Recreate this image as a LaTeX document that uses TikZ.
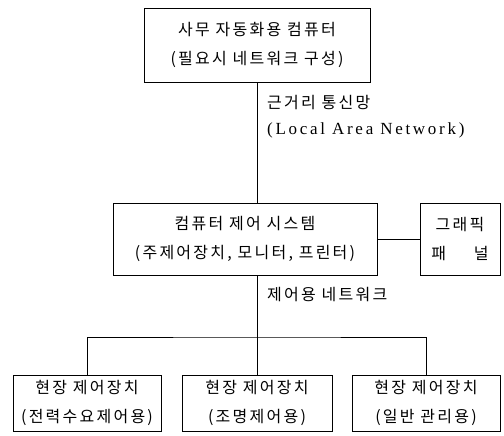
\documentclass[tikz,border=0pt]{standalone}
\usepackage{fontspec}
\newfontfamily\krfont[LetterSpace=14]{Noto Sans CJK KR}
\newfontfamily\latfont[LetterSpace=16]{Liberation Serif}
\begin{document}
\begin{tikzpicture}[x=1pt,y=-1pt,
  box/.style={draw,line width=0.8pt,inner sep=0pt,align=center,
    font=\krfont\fontsize{16}{29}\selectfont},
  lbl/.style={inner sep=0pt,anchor=north west,align=left,
    font=\krfont\fontsize{16}{26}\selectfont},
  conn/.style={line width=0.8pt}]
\useasboundingbox (0,0) rectangle (504,436);
\node[box,minimum width=226pt,minimum height=74pt] (top) at (257,45)
  {사무 자동화용 컴퓨터\\(필요시 네트워크 구성)};
\node[box,minimum width=264pt,minimum height=72pt] (mid) at (245,239)
  {컴퓨터 제어 시스템\\(주제어장치, 모니터, 프린터)};
\node[box,minimum width=80pt,minimum height=72pt] (gp) at (460,239)
  {그래픽\\패\quad\ \ 널};
\node[box,minimum width=148pt,minimum height=56pt] (b1) at (87,403)
  {현장 제어장치\\(전력수요제어용)};
\node[box,minimum width=150pt,minimum height=56pt] (b2) at (257,403)
  {현장 제어장치\\(조명제어용)};
\node[box,minimum width=148pt,minimum height=56pt] (b3) at (426,403)
  {현장 제어장치\\(일반 관리용)};
\node[lbl] (lan) at (267,95) {근거리 통신망\\{\latfont\fontsize{17}{26}\selectfont(Local Area Network)}};
\node[lbl] (ctl) at (267,287) {제어용 네트워크};
\coordinate (bus) at (257,337);
\draw[conn] (top.south) -- (top.south |- mid.north);
\draw[conn] (mid.east |- gp.west) -- (gp.west);
\draw[conn] (b2.north |- mid.south) -- (b2.north);
\draw[conn] (b1.north) |- (bus) -| (b3.north);
\end{tikzpicture}
\end{document}
